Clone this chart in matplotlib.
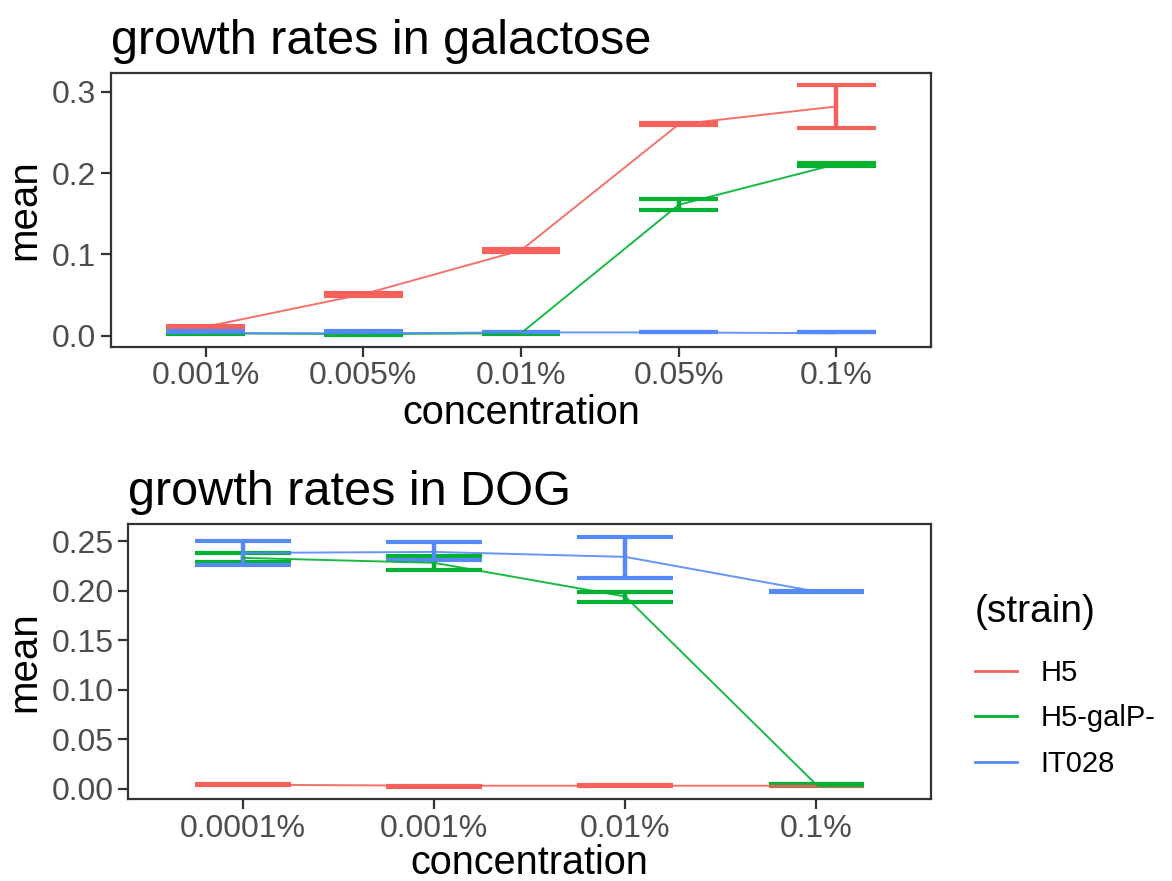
import matplotlib
matplotlib.use("Agg")
import matplotlib.pyplot as plt
from matplotlib.lines import Line2D

plt.rcParams["font.family"] = ["Liberation Sans", "DejaVu Sans"]

# ── data ──────────────────────────────────────────────────────────
strains = ["H5", "H5-galP-", "IT028"]
colors = ["#F6615C", "#00B232", "#5589F8"]

gal_conc = ["0.001%", "0.005%", "0.01%", "0.05%", "0.1%"]
gal_mean = [
    [0.011, 0.051, 0.105, 0.260, 0.282],
    [0.003, 0.002, 0.003, 0.161, 0.211],
    [0.003, 0.003, 0.004, 0.004, 0.003],
]
gal_lo = [
    [0.009, 0.049, 0.103, 0.259, 0.256],
    [0.002, 0.001, 0.002, 0.155, 0.209],
    [0.004, 0.004, 0.004, 0.004, 0.004],
]
gal_hi = [
    [0.012, 0.053, 0.107, 0.262, 0.309],
    [0.004, 0.003, 0.003, 0.168, 0.213],
    [0.006, 0.006, 0.005, 0.005, 0.005],
]

dog_conc = ["0.0001%", "0.001%", "0.01%", "0.1%"]
dog_mean = [
    [0.004, 0.003, 0.003, 0.003],
    [0.233, 0.228, 0.194, 0.004],
    [0.238, 0.239, 0.234, 0.199],
]
dog_lo = [
    [0.004, 0.002, 0.003, 0.003],
    [0.229, 0.221, 0.188, 0.004],
    [0.226, 0.231, 0.213, 0.199],
]
dog_hi = [
    [0.005, 0.003, 0.004, 0.003],
    [0.238, 0.235, 0.199, 0.005],
    [0.250, 0.249, 0.254, 0.200],
]


def draw_panel(ax, conc, means, los, his, title, ylim, yticks, yfmt, xpad):
    x = list(range(len(conc)))
    # error bars first, mean lines on top
    for col, lo, hi in zip(colors, los, his):
        ax.vlines(x, lo, hi, color=col, lw=3.2, zorder=2)
        ax.hlines(lo, [v - 0.25 for v in x], [v + 0.25 for v in x], color=col, lw=3.0, zorder=2)
        ax.hlines(hi, [v - 0.25 for v in x], [v + 0.25 for v in x], color=col, lw=3.0, zorder=2)
    for col, m in zip(colors, means):
        ax.plot(x, m, color=col, lw=1.4, alpha=0.9, zorder=3)

    ax.set_xlim(-0.6, len(conc) - 0.4)
    ax.set_ylim(*ylim)
    ax.set_xticks(x)
    ax.set_xticklabels(conc)
    ax.set_yticks(yticks)
    ax.set_yticklabels([yfmt.format(v) for v in yticks])
    ax.tick_params(axis="both", labelsize=23, labelcolor="#4D4D4D",
                   color="#333333", length=7, width=1.6)
    for s in ax.spines.values():
        s.set_color("#333333")
        s.set_linewidth(1.6)
    ax.set_xlabel("concentration", fontsize=28.5, labelpad=xpad)
    ax.set_ylabel("mean", fontsize=29, labelpad=6)
    ax.set_title(title, fontsize=35, loc="left", pad=14)


fig = plt.figure(figsize=(11.72, 8.81), dpi=100)
ax1 = fig.add_axes([0.0947, 0.6065, 0.6997, 0.3103])
ax2 = fig.add_axes([0.1095, 0.0931, 0.6849, 0.3118])

draw_panel(ax1, gal_conc, gal_mean, gal_lo, gal_hi, "growth rates in galactose",
           (-0.0135, 0.3228), [0.0, 0.1, 0.2, 0.3], "{:.1f}", 2)
draw_panel(ax2, dog_conc, dog_mean, dog_lo, dog_hi, "growth rates in DOG",
           (-0.0104, 0.2669), [0.0, 0.05, 0.10, 0.15, 0.20, 0.25], "{:.2f}", 0)

handles = [Line2D([], [], color=c, lw=2.0) for c in colors]
leg = fig.legend(handles, strains, title="(strain)", loc="upper left",
                 bbox_to_anchor=(0.832, 0.326), frameon=False, fontsize=21,
                 title_fontsize=28, handlelength=1.45, handletextpad=0.8,
                 labelspacing=0.6, borderpad=0, borderaxespad=0)
leg._legend_box.align = "left"
leg._legend_box.sep = 21

fig.savefig("out.png", dpi=100)
